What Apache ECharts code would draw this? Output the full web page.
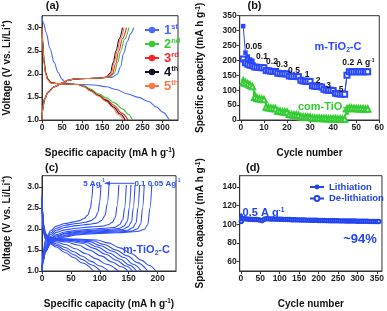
<!DOCTYPE html>
<html><head><meta charset="utf-8">
<script src="https://cdn.jsdelivr.net/npm/echarts@6/dist/echarts.min.js"></script>
<style>html,body{margin:0;padding:0;background:#fff}#c{width:387px;height:311px}</style>
</head><body><div id="c"></div>
<script>
// ---------- Panel (a): galvanostatic profiles, cycles 1-5 ----------
const aNames = ['1st','2nd','3rd','4th','5th'];
const aDis1 = [[0,3.24],[4,3.1],[10,2.9],[20,2.55],[30,2.25],[40,2.03],[50,1.88],[60,1.8],[75,1.78],[100,1.77],[130,1.76],[160,1.72],[185,1.66],[210,1.57],[240,1.49],[265,1.4],[285,1.28],[300,1.17],[316,1.0]];
const aDis2 = [[0,3.0],[2,2.7],[5,2.3],[9,2.05],[14,1.9],[22,1.82],[35,1.79],[60,1.78],[90,1.77],[105,1.74],[120,1.67],[140,1.57],[160,1.48],[180,1.37],[200,1.24],[215,1.12],[225,1.0]];
const aDis3 = [[0,3.0],[2,2.68],[5,2.28],[9,2.03],[14,1.89],[22,1.81],[35,1.79],[60,1.78],[90,1.77],[105,1.73],[120,1.65],[140,1.54],[160,1.44],[180,1.31],[198,1.15],[214,1.0]];
const aDis4 = [[0,3.0],[2,2.66],[5,2.26],[9,2.02],[14,1.88],[22,1.81],[35,1.79],[60,1.78],[90,1.77],[105,1.72],[120,1.64],[140,1.53],[160,1.42],[178,1.28],[194,1.13],[207,1.0]];
const aDis5 = [[0,3.0],[2,2.64],[5,2.24],[9,2.0],[14,1.87],[22,1.8],[35,1.79],[60,1.78],[90,1.77],[105,1.72],[120,1.63],[140,1.52],[160,1.4],[175,1.27],[190,1.12],[202,1.0]];
const aChg1 = [[0,1.0],[2,1.25],[6,1.45],[15,1.6],[30,1.72],[50,1.8],[65,1.86],[80,1.89],[110,1.9],[150,1.91],[175,1.93],[187,1.99],[195,2.15],[203,2.45],[212,2.7],[220,2.87],[228,3.0]];
const aChg2 = [[0,1.0],[2,1.25],[6,1.45],[15,1.6],[30,1.72],[50,1.8],[65,1.86],[80,1.89],[110,1.9],[150,1.91],[170,1.94],[180,2.02],[188,2.25],[196,2.5],[205,2.75],[216,3.0]];
const aChg3 = [[0,1.0],[2,1.25],[6,1.45],[15,1.6],[30,1.72],[50,1.8],[65,1.86],[80,1.89],[110,1.9],[150,1.91],[165,1.93],[175,2.0],[183,2.22],[191,2.5],[200,2.76],[210,3.0]];
const aChg4 = [[0,1.0],[2,1.25],[6,1.45],[15,1.6],[30,1.72],[50,1.8],[65,1.86],[80,1.89],[110,1.9],[145,1.91],[160,1.93],[170,2.02],[177,2.25],[184,2.5],[192,2.76],[200,3.0]];
const aChg5 = [[0,1.0],[2,1.25],[6,1.45],[15,1.6],[30,1.72],[50,1.8],[65,1.86],[80,1.89],[110,1.9],[147,1.91],[162,1.93],[172,2.01],[179,2.23],[187,2.5],[195,2.76],[204,3.0]];
const aXTicks = [0,50,100,150,200,250,300];
const aYTicks = [1.0,1.5,2.0,2.5,3.0];

// ---------- Panel (b): rate capability ----------
const bMdis = [315,226,213,203,199, 180,178,177,176,176, 167,166,165,164,164, 158,157,156,156,155, 149,148,147,147,146, 134,132,131,131,130, 116,114,113,113,112, 104,102,101,101,100, 91,89,88,88,87, 152,164,164,163,163,163,163,163,163,163];
const bMchg = [205,192,187,184,182, 178,177,176,175,175, 166,165,164,163,163, 157,156,155,155,154, 148,147,146,146,145, 133,131,130,130,129, 115,113,112,112,111, 103,101,100,100,99, 90,88,87,87,86, 150,162,162,162,162,162,162,162,162,162];
const bCdis = [140,133,128,124,118, 92,78,74,72,70, 50,43,41,40,39, 32,30,29,28,27, 20,19,18,17,17, 12,11,10,10,9, 7,7,6,6,6, 5,5,5,4,4, 4,4,3,3,3, 26,42,41,41,40,40,39,39,38,38];
const bCchg = [126,124,121,117,112, 76,73,71,70,69, 44,41,40,39,38, 30,29,28,27,27, 19,18,17,17,16, 11,10,10,9,9, 7,6,6,6,5, 5,5,4,4,4, 4,3,3,3,3, 38,40,40,39,39,38,38,38,37,37];
const bRates = ['0.05','0.1','0.2','0.3','0.5','1','2','3','5'];
const bXTicks = [0,10,20,30,40,50,60];
const bYTicks = [0,50,100,150,200,250,300,350];

// ---------- Panel (c): m-TiO2-C profiles at rates 0.05 ... 5 A/g ----------
const cChg = [
 [[0,1.0],[2,1.22],[6,1.45],[15,1.65],[25,1.74],[40,1.81],[60,1.86],[90,1.89],[130,1.91],[165,1.94],[177,1.99],[183,2.1],[187,2.5],[190,3.05]],
 [[0,1.0],[2,1.24],[6,1.47],[15,1.67],[25,1.76],[40,1.83],[60,1.88],[90,1.91],[130,1.93],[155,1.95],[165,2.0],[171,2.12],[174,2.5],[177,3.05]],
 [[0,1.0],[2,1.26],[6,1.49],[15,1.69],[25,1.78],[40,1.85],[60,1.9],[90,1.93],[125,1.95],[148,1.97],[157,2.03],[163,2.15],[166,2.5],[169,3.05]],
 [[0,1.0],[2,1.28],[6,1.52],[15,1.72],[25,1.81],[40,1.88],[60,1.92],[90,1.95],[120,1.97],[140,1.99],[149,2.05],[155,2.17],[158,2.5],[161,3.05]],
 [[0,1.0],[2,1.3],[6,1.55],[15,1.75],[25,1.84],[40,1.9],[60,1.94],[90,1.97],[115,1.99],[133,2.01],[142,2.07],[148,2.19],[151,2.5],[154,3.05]],
 [[0,1.0],[2,1.32],[6,1.58],[15,1.78],[25,1.87],[40,1.93],[60,1.97],[90,2.0],[110,2.02],[126,2.04],[134,2.1],[140,2.22],[143,2.5],[146,3.05]],
 [[0,1.0],[2,1.35],[6,1.62],[15,1.82],[25,1.92],[40,1.98],[60,2.02],[85,2.05],[105,2.07],[114,2.1],[122,2.16],[127,2.28],[130,2.55],[133,3.05]],
 [[0,1.0],[2,1.38],[6,1.66],[15,1.87],[25,1.97],[40,2.04],[60,2.08],[80,2.11],[95,2.14],[103,2.2],[109,2.32],[113,2.6],[116,3.05]],
 [[0,1.0],[2,1.41],[6,1.7],[15,1.91],[25,2.02],[40,2.09],[60,2.13],[75,2.16],[85,2.2],[92,2.27],[97,2.4],[100,2.65],[102,3.05]],
 [[0,1.0],[2,1.45],[6,1.75],[15,1.96],[25,2.07],[40,2.13],[55,2.17],[65,2.2],[73,2.25],[79,2.33],[84,2.5],[86,2.7],[88,3.05]]
];
const cDis = [
 [[0,2.8],[1,2.45],[3,2.1],[6,1.9],[12,1.8],[25,1.77],[60,1.76],[95,1.74],[115,1.67],[135,1.55],[155,1.41],[172,1.26],[186,1.13],[197,1.0]],
 [[0,2.78],[1,2.42],[3,2.08],[6,1.88],[12,1.79],[25,1.76],[55,1.75],[88,1.72],[108,1.63],[128,1.5],[148,1.36],[165,1.2],[183,1.0]],
 [[0,2.76],[1,2.4],[3,2.06],[6,1.87],[12,1.78],[25,1.75],[50,1.74],[82,1.7],[102,1.6],[122,1.47],[142,1.32],[158,1.16],[172,1.0]],
 [[0,2.74],[1,2.38],[3,2.04],[6,1.86],[12,1.77],[25,1.74],[48,1.73],[76,1.68],[96,1.57],[116,1.43],[136,1.28],[151,1.14],[164,1.0]],
 [[0,2.72],[1,2.36],[3,2.02],[6,1.85],[12,1.76],[25,1.73],[45,1.71],[70,1.66],[90,1.54],[110,1.4],[130,1.25],[145,1.12],[157,1.0]],
 [[0,2.7],[1,2.34],[3,2.0],[6,1.84],[12,1.75],[25,1.72],[42,1.69],[62,1.62],[82,1.5],[102,1.36],[122,1.21],[137,1.1],[149,1.0]],
 [[0,2.66],[1,2.3],[3,1.97],[6,1.81],[12,1.73],[25,1.69],[40,1.63],[58,1.53],[76,1.41],[94,1.29],[112,1.16],[132,1.0]],
 [[0,2.62],[1,2.26],[3,1.94],[6,1.79],[12,1.71],[25,1.65],[40,1.56],[55,1.46],[70,1.35],[85,1.23],[100,1.12],[115,1.0]],
 [[0,2.58],[1,2.22],[3,1.91],[6,1.77],[12,1.69],[25,1.61],[40,1.5],[55,1.39],[70,1.27],[85,1.15],[101,1.0]],
 [[0,2.54],[1,2.18],[3,1.88],[6,1.75],[12,1.67],[25,1.57],[40,1.44],[55,1.32],[70,1.19],[89,1.0]]
];
const cXTicks = [0,50,100,150,200];
const cYTicks = [1.0,1.5,2.0,2.5,3.0];

// ---------- Panel (d): cycling at 0.5 A/g ----------
const dCycles = [1,2,5,10,15,20,25,30,35,40,45,50,55,60,65,70,75,80,85,90,95,100,105,110,115,120,125,130,135,140,145,150,155,160,165,170,175,180,185,190,195,200,205,210,215,220,225,230,235,240,245,250,255,260,265,270,275,280,285,290,295,300,305,310,315,320,325,330,335,340,345,350,355];
const dLith = [110,107.5,106.5,106.2,106.0,105.8,105.7,105.6,105.5,105.4,105.2,104.8,104.2,105.6,106.1,106.1,106.0,106.0,105.9,105.8,105.8,105.7,105.6,105.5,105.5,105.4,105.3,105.2,105.2,105.1,105.0,105.0,104.9,104.8,104.8,104.7,104.7,104.6,104.6,104.5,104.5,104.4,104.4,104.3,104.3,104.2,104.2,104.1,104.1,104.0,104.0,104.0,103.9,103.9,103.9,103.8,103.8,103.8,103.7,103.7,103.7,103.6,103.6,103.6,103.5,103.5,103.5,103.4,103.4,103.4,103.3,103.3,103.3];
const dDelith = [103,106.0,106.1,105.8,105.6,105.4,105.3,105.2,105.1,105.0,104.8,104.4,103.9,105.3,105.8,105.8,105.7,105.7,105.6,105.5,105.5,105.4,105.3,105.2,105.2,105.1,105.0,104.9,104.9,104.8,104.7,104.7,104.6,104.5,104.5,104.4,104.4,104.3,104.3,104.2,104.2,104.1,104.1,104.0,104.0,103.9,103.9,103.8,103.8,103.7,103.7,103.7,103.6,103.6,103.6,103.5,103.5,103.5,103.4,103.4,103.4,103.3,103.3,103.3,103.2,103.2,103.2,103.1,103.1,103.1,103.0,103.0,103.0];
const dXTicks = [0,50,100,150,200,250,300,350];
const dYTicks = [60,80,100,120,140];

// ---------- styling ----------
const FONT = '"Liberation Sans", Arial, Helvetica, sans-serif';
const AXC = '#333';
const cA = ['#4a66ff','#33cc33','#ff2222','#111122','#ff7744'];
const BLUEB = '#2a48ff', GREENB = '#33cc33', BLUEC = '#2f4fff', BLUED = '#2244ee';

const supRich = {
  sup: {fontSize: 6.5, fontWeight: 'bold', fontFamily: FONT, color: '#111', verticalAlign: 'top', lineHeight: 8},
};
function nameStyle(){
  return {fontSize: 10, fontWeight: 'bold', fontFamily: FONT, color: '#111', lineHeight: 12, rich: supRich};
}
function axis(gi, min, max, ticks, fmt, extra){
  const o = {
    type: 'value', gridIndex: gi, min: min, max: max,
    axisLine: {show: true, onZero: false, lineStyle: {color: AXC, width: 1}},
    axisTick: {show: true, inside: false, length: 3, customValues: ticks, lineStyle: {color: AXC}},
    axisLabel: {customValues: ticks, fontSize: 8.5, fontWeight: 'bold', fontFamily: FONT, color: '#222', margin: 3,
                formatter: fmt || (v => String(v))},
    splitLine: {show: false},
    nameLocation: 'middle', nameTextStyle: nameStyle()
  };
  return Object.assign(o, extra || {});
}
const f1 = v => v.toFixed(1);

const grids = [
  {left: 37.7, top: 15.7, width: 140.3, height: 104.3},
  {left: 239.7, top: 15.7, width: 141.3, height: 104.3},
  {left: 37.7, top: 175.7, width: 138.3, height: 104.3},
  {left: 239.7, top: 175.7, width: 142.3, height: 104.3}
].map(g => Object.assign(g, {show: true, borderColor: AXC, borderWidth: 1, backgroundColor: 'transparent'}));

const capName = 'Specific capacity (mA h g{sup|-1})';
const voltName = 'Voltage (V vs. Li/Li{sup|+})';

const xAxes = [
  axis(0, 0, 338, aXTicks, null, {name: capName, nameGap: 27}),
  axis(1, -0.5, 60, bXTicks, null, {name: 'Cycle number', nameGap: 27}),
  axis(2, 0, 232, cXTicks, null, {name: capName, nameGap: 27}),
  axis(3, -3, 363, dXTicks, null, {name: 'Cycle number', nameGap: 27})
];
const yAxes = [
  axis(0, 1.0, 3.26, aYTicks, f1, {name: voltName, nameGap: 29}),
  axis(1, 0, 350, bYTicks, null, {name: capName, nameGap: 33}),
  axis(2, 1.0, 3.27, cYTicks, f1, {name: voltName, nameGap: 29}),
  axis(3, 50, 152, dYTicks, null, {name: capName, nameGap: 33})
];

const series = [];
// panel a
const aDis = [aDis1,aDis2,aDis3,aDis4,aDis5], aChg = [aChg1,aChg2,aChg3,aChg4,aChg5];
aNames.forEach((n, i) => {
  [aDis[i], aChg[i]].forEach(d => series.push({
    type: 'line', name: n, xAxisIndex: 0, yAxisIndex: 0, data: d, symbol: 'none',
    smooth: 0.35, smoothMonotone: 'x', lineStyle: {color: cA[i], width: 1.1}, itemStyle: {color: cA[i]},
    silent: true, animation: false
  }));
});
// panel b
const cyc = bMdis.map((_, i) => i + 1);
const pair = arr => arr.map((v, i) => [cyc[i], v]);
series.push({type:'line', name:'m-dis', xAxisIndex:1, yAxisIndex:1, data: pair(bMdis), symbol:'rect', symbolSize:4.5,
  lineStyle:{color:BLUEB, width:1}, itemStyle:{color:BLUEB}, animation:false});
series.push({type:'line', name:'m-chg', xAxisIndex:1, yAxisIndex:1, data: pair(bMchg), symbol:'emptyRect', symbolSize:5,
  lineStyle:{color:BLUEB, width:1}, itemStyle:{color:BLUEB, borderWidth:1}, animation:false});
series.push({type:'line', name:'c-dis', xAxisIndex:1, yAxisIndex:1, data: pair(bCdis), symbol:'triangle', symbolSize:5,
  lineStyle:{color:GREENB, width:1}, itemStyle:{color:GREENB}, animation:false});
series.push({type:'line', name:'c-chg', xAxisIndex:1, yAxisIndex:1, data: pair(bCchg), symbol:'emptyTriangle', symbolSize:5.5,
  lineStyle:{color:GREENB, width:1}, itemStyle:{color:GREENB, borderWidth:1}, animation:false});
// panel c
cChg.forEach((d, i) => series.push({type:'line', name:'chg'+i, xAxisIndex:2, yAxisIndex:2, data:d, symbol:'none',
  smooth:0.35, smoothMonotone:'x', lineStyle:{color:BLUEC, width:1.1}, animation:false}));
cDis.forEach((d, i) => series.push({type:'line', name:'dis'+i, xAxisIndex:2, yAxisIndex:2, data:d, symbol:'none',
  smooth:0.35, smoothMonotone:'x', lineStyle:{color:BLUEC, width:1.1}, animation:false}));
// panel d
series.push({type:'line', name:'Lithiation', xAxisIndex:3, yAxisIndex:3, data: dLith.map((v,i)=>[dCycles[i], v]),
  symbol:'circle', symbolSize:3.5, lineStyle:{color:BLUED, width:2}, itemStyle:{color:BLUED}, animation:false});
series.push({type:'line', name:'De-lithiation', xAxisIndex:3, yAxisIndex:3, data: dDelith.map((v,i)=>[dCycles[i], v]),
  symbol:'emptyCircle', symbolSize:3.5, lineStyle:{color:BLUED, width:2}, itemStyle:{color:BLUED, borderWidth:1}, animation:false});

// legend (a) rich labels
const ordRich = {};
const ordParts = {'1st':['1','st'],'2nd':['2','nd'],'3rd':['3','rd'],'4th':['4','th'],'5th':['5','th']};
aNames.forEach((n, i) => {
  ordRich['n'+i] = {color: cA[i], fontSize: 13, fontWeight: 'bold', fontFamily: FONT, lineHeight: 14};
  ordRich['s'+i] = {color: cA[i], fontSize: 7.5, fontWeight: 'bold', fontFamily: FONT, lineHeight: 8, verticalAlign: 'top'};
});

const legends = [
  {data: aNames, orient: 'vertical', left: 144, top: 23, itemWidth: 14, itemHeight: 8, itemGap: 0.5, padding: 0,
   formatter: n => { const i = aNames.indexOf(n); return '{n'+i+'|'+ordParts[n][0]+'}{s'+i+'|'+ordParts[n][1]+'}'; },
   textStyle: {rich: ordRich}, selectedMode: false},
  {data: ['Lithiation','De-lithiation'], orient: 'vertical', left: 309, top: 182, itemWidth: 14, itemHeight: 6, itemGap: 1.5, padding: 0,
   textStyle: {color: BLUED, fontSize: 9.5, fontWeight: 'bold', fontFamily: FONT}, selectedMode: false}
];

// annotation text helper
function txt(x, y, text, size, color, rich, align){
  return {type: 'text', x: x, y: y, silent: true, z: 100,
    style: {text: text, font: 'bold ' + size + 'px ' + FONT, fill: color || '#111', align: align || 'center', verticalAlign: 'middle', rich: rich}};
}
const subRich = (c, s) => ({
  a: {fontSize: s, fontWeight: 'bold', fontFamily: FONT, fill: c, color: c, lineHeight: s + 2},
  b: {fontSize: s * 0.6, fontWeight: 'bold', fontFamily: FONT, fill: c, color: c, lineHeight: s * 0.7, verticalAlign: 'bottom'},
  p: {fontSize: s * 0.6, fontWeight: 'bold', fontFamily: FONT, fill: c, color: c, lineHeight: s * 0.7, verticalAlign: 'top'}
});
const rateLabelPos = [[253.7,46.7],[262,56.7],[272,62],[282,65],[294,71],[307,74.5],[318,80.5],[328.7,85.5],[341,89.5]];

const graphics = [
  txt(52.5, 6, '(a)', 11), txt(254.5, 6, '(b)', 11), txt(51.7, 167.5, '(c)', 11), txt(253, 167.5, '(d)', 11),
  txt(338, 47, '{a|m-TiO}{b|2}{a|-C}', 11, BLUEB, subRich(BLUEB, 11)),
  txt(322, 107, '{a|com-TiO}{b|2}', 11, GREENB, subRich(GREENB, 11)),
  txt(358.5, 63, '{a|0.2 A g}{p|-1}', 8.5, '#111', subRich('#111', 8.5)),
  txt(146.5, 250, '{a|m-TiO}{b|2}{a|-C}', 11, BLUEC, subRich(BLUEC, 11)),
  txt(94, 183.3, '{a|5 Ag}{p|-1}', 8, BLUEC, subRich(BLUEC, 8)),
  txt(140, 183.3, '{a|0.1}', 8, BLUEC, subRich(BLUEC, 8)),
  txt(164, 183.3, '{a|0.05 Ag}{p|-1}', 8, BLUEC, subRich(BLUEC, 8)),
  {type:'line', silent:true, shape:{x1:108, y1:183.3, x2:134.5, y2:183.3}, style:{stroke:BLUEC, lineWidth:1}},
  {type:'polygon', silent:true, shape:{points:[[104,183.3],[110,181.3],[110,185.3]]}, style:{fill:BLUEC}},
  txt(263.5, 213.3, '{a|0.5 A g}{p|-1}', 11, BLUED, subRich(BLUED, 11)),
  txt(360, 239, '~94%', 13, BLUED)
];
bRates.forEach((r, i) => graphics.push(txt(rateLabelPos[i][0], rateLabelPos[i][1], r, 8.5, '#111')));

const chart = echarts.init(document.getElementById('c'), null, {renderer: 'canvas', width: 387, height: 311});
chart.setOption({
  animation: false, backgroundColor: '#fff',
  grid: grids, xAxis: xAxes, yAxis: yAxes, series: series, legend: legends, graphic: graphics
});
</script></body></html>
